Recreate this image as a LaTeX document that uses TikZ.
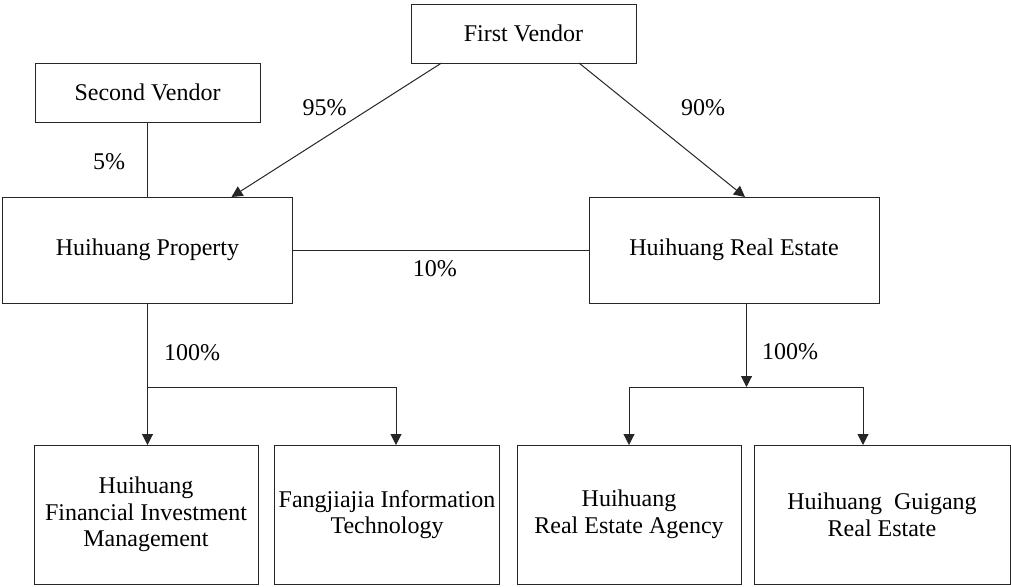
\documentclass[tikz,border=0pt]{standalone}
\usepackage{fontspec}
\setmainfont{Liberation Serif}
\newfontfamily\firmfont{Liberation Serif}
\usetikzlibrary{arrows.meta,positioning}
\tikzset{
  firm/.style={draw=black!85, line width=0.5pt, align=center, inner sep=2pt, outer sep=0pt,
    font=\firmfont\fontsize{12}{13.3}\selectfont},
  small/.style={minimum width=112.5pt, minimum height=29.5pt},
  big/.style={minimum width=145pt, minimum height=53pt},
  sub/.style={minimum width=112pt, minimum height=69.5pt},
  link/.style={draw=black!85, line width=0.5pt},
  arr/.style={link, -{Triangle[length=5.5pt,width=5.5pt]}},
  pct/.style={font=\firmfont\fontsize{12}{13.3}\selectfont, inner sep=0pt}
}
\begin{document}
\begin{tikzpicture}[x=0.5pt,y=-0.5pt]
\useasboundingbox (0,0) rectangle (1011,586);
\node[firm, small] (fv) at (523.5,33.5) {First Vendor};
\node[firm, small] (sv) at (147.5,92.5) {Second Vendor};
\node[firm, big] (hp) at (147.5,250) {Huihuang Property};
\node[firm, big] (hre) at (734,250) {Huihuang Real Estate};
\node[firm, sub] (hfim) at (146,514.5) {Huihuang\\Financial Investment\\Management};
\node[firm, sub] (fit) at (387,514.5) {Fangjiajia Information\\Technology};
\node[firm, sub] (area) at (629,514.5) {Huihuang\\Real Estate Agency};
\node[firm, sub, minimum width=128pt] (gg) at (882,514.5) {Huihuang~ Guigang\\Real Estate};
\coordinate (lsplit) at (147.5,387);
\coordinate (rsplit) at (746.5,387);

\draw[arr] ([xshift=-41pt]fv.south) -- ([xshift=42pt]hp.north) node[pct, midway, above=7pt, xshift=-6pt] {95\%};
\draw[arr] ([xshift=27.75pt]fv.south) -- ([xshift=5.5pt]hre.north) node[pct, midway, above=7pt, xshift=20.5pt] {90\%};
\draw[link] (sv.south) -- (hp.north) node[pct, midway, left=11pt, yshift=-1pt] {5\%};
\draw[link] (hp.east) -- (hre.west) node[pct, pos=0.48, below=5pt] {10\%};

\draw[arr] (hp.south) -- (hp.south |- hfim.north) node[pct, pos=0.35, right=8pt] {100\%};
\draw[arr] (lsplit) -| ([xshift=4.5pt]fit.north);
\draw[arr] ([xshift=6.25pt]hre.south) -- (rsplit) node[pct, pos=0.58, right=7.5pt] {100\%};
\draw[arr] (rsplit) -| (area.north);
\draw[arr] (rsplit) -| ([xshift=-9.5pt]gg.north);
\end{tikzpicture}
\end{document}
